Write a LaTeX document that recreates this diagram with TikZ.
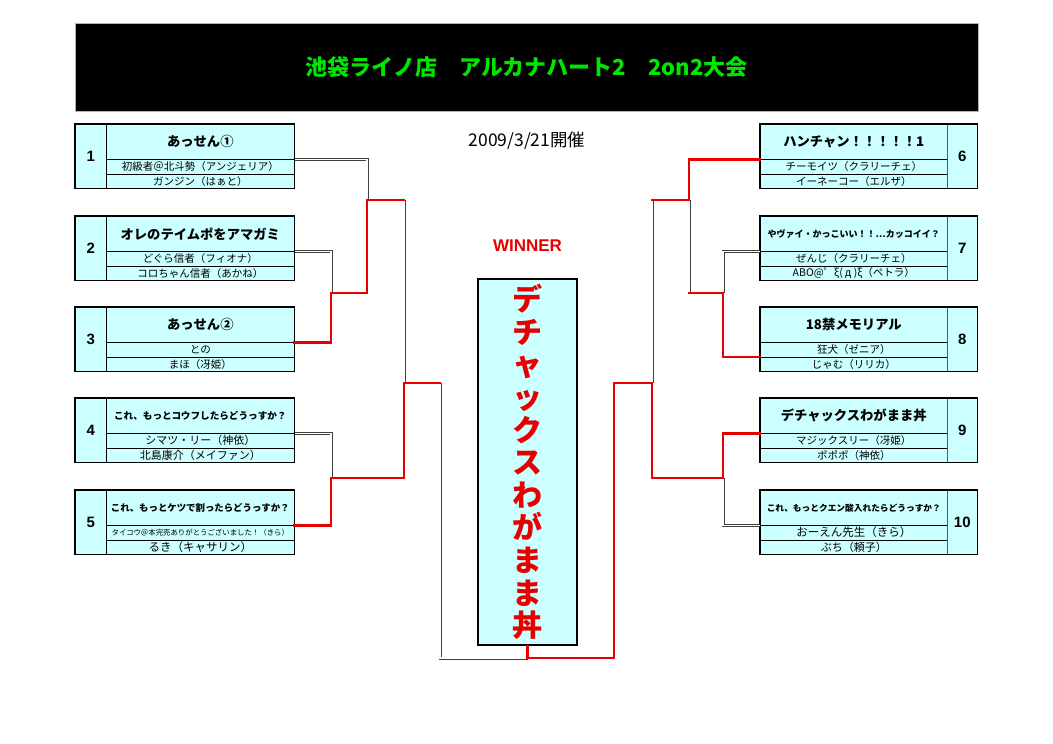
\documentclass[tikz,border=0pt]{standalone}
\usepackage{fontspec}
\newfontfamily\jp{Noto Sans CJK JP}
\newfontfamily\lib{Liberation Sans}
\definecolor{cellcyan}{RGB}{204,255,255}
\definecolor{titlegreen}{RGB}{0,230,0}
\definecolor{bred}{RGB}{232,0,0}
\newcommand\fs[1]{\fontsize{#1}{#1}\selectfont}
% left box: id, top, number, header, row1, row2
\newcommand\LBox[6]{%
  \node[numcell] (n#1) at (75,#2) {#3};
  \node[hdr] (h#1) at (106,#2) {#4};
  \node[rowcell] (ra#1) at (106,#2+35) {#5};
  \node[rowcell] (rb#1) at (106,#2+49.5) {#6};
  \draw[outer] (n#1.north west) rectangle (rb#1.south east);
}
\newcommand\RBox[6]{%
  \node[hdr,minimum width=187pt] (h#1) at (760,#2) {#4};
  \node[rowcell,minimum width=187pt] (ra#1) at (760,#2+35) {#5};
  \node[rowcell,minimum width=187pt] (rb#1) at (760,#2+49.5) {#6};
  \node[numcell,minimum width=30pt] (n#1) at (947,#2) {#3};
  \draw[outer] (h#1.north west) rectangle (n#1.south east);
}
\begin{document}
\begin{tikzpicture}[x=1pt,y=-1pt,
  cell/.style={draw=black, line width=0.6pt, fill=cellcyan, inner sep=0pt, anchor=north west},
  hdr/.style={cell, minimum width=188pt, minimum height=35pt, font=\jp\bfseries\fs{13.3}},
  rowcell/.style={cell, minimum width=188pt, minimum height=14.5pt, font=\jp\fs{10.5}},
  numcell/.style={cell, draw=gray!70!black, minimum width=31pt, minimum height=64pt, font=\lib\bfseries\fs{15}},
  outer/.style={draw=black, line width=1.6pt},
  lose/.style={draw=black!75, line width=0.9pt, double=white, double distance=1.2pt},
  win/.style={draw=bred, line width=2.4pt, line cap=rect}
]
\fill[white] (0,0) rectangle (1053,744);
\useasboundingbox (0,0) rectangle (1053,744);

% title
\node[fill=black, draw=gray!60, line width=1pt, minimum width=903pt, minimum height=88pt, inner sep=0pt,
      text=titlegreen, font=\jp\bfseries\fs{22}] (title) at (526.5,67) {池袋ライノ店　アルカナハート2　2on2大会};
\node[font=\jp\fs{17.5}, inner sep=0pt] (date) at (527,141) {2009/3/21開催};
\node[font=\lib\bfseries\fs{17}, text=bred, inner sep=0pt] (winner) at (527.5,246) {WINNER};

% boxes (left)
\LBox{1}{124}{1}{あっせん①}{初級者＠北斗勢（アンジェリア）}{ガンジン（はぁと）}
\LBox{2}{216}{2}{オレのテイムポをアマガミ}{どぐら信者（フィオナ）}{コロちゃん信者（あかね）}
\LBox{3}{307}{3}{あっせん②}{との}{まほ（冴姫）}
\LBox{4}{398}{4}{{\fs{9.6}これ、もっとコウフしたらどうっすか？}}{{\fs{11}シマツ・リー（神依）}}{{\fs{11}北島康介（メイファン）}}
\LBox{5}{490}{5}{{\fs{9.4}これ、もっとケツで割ったらどうっすか？}}{{\fs{7.4}タイコウ＠本完売ありがとうございました！（きら）}}{{\fs{11.5}るき（キャサリン）}}
% boxes (right)
\RBox{6}{124}{6}{ハンチャン！！！！！1}{チーモイツ（クラリーチェ）}{イーネーコー（エルザ）}
\RBox{7}{216}{7}{{\fs{9}やヴァイ・かっこいい！！…カッコイイ？}}{ぜんじ（クラリーチェ）}{ABO@゜ξ(~д~)ξ（ペトラ）}
\RBox{8}{307}{8}{18禁メモリアル}{狂犬（ゼニア）}{じゃむ（リリカ）}
\RBox{9}{398}{9}{デチャックスわがまま丼}{マジックスリー（冴姫）}{ポポポ（神依）}
\RBox{10}{490}{10}{{\fs{8.7}これ、もっとクエン酸入れたらどうっすか？}}{{\fs{11.5}おーえん先生（きら）}}{{\fs{11}ぶち（頼子）}}

% winner box
\node[draw=black, line width=1.6pt, fill=cellcyan, minimum width=99pt, minimum height=366pt, inner sep=0pt,
      align=center, text=bred, font=\jp\bfseries\fontsize{30}{32.6}\selectfont] (wbox) at (527.5,462)
  {デ\\チ\\ャ\\ッ\\ク\\ス\\わ\\が\\ま\\ま\\丼};

% connector coordinates
\coordinate (j1) at (367,200);
\coordinate (j23) at (331,293);
\coordinate (s1) at (404,200);
\coordinate (f1) at (404,383);
\coordinate (j45) at (331,478);
\coordinate (fL) at (440,383);
\coordinate (bot) at (527.5,658);
\coordinate (fR) at (614,383);
\coordinate (f2) at (652,383);
\coordinate (s2) at (652,200);
\coordinate (j6) at (689,200);
\coordinate (j78) at (723,293);
\coordinate (j910) at (723,478);

% losing paths
\draw[lose] (h1.south east) -| (j1);
\draw[lose] (h2.south east) -| (j23);
\draw[lose] (s1) -- (f1);
\draw[lose] (h4.south east) -| (j45);
\draw[lose] (fL) |- (bot);
\draw[lose] (h7.south west) -| (j78);
\draw[lose] (j6 |- j78) -- (j6);
\draw[lose] (s2) -- (f2);
\draw[lose] (h10.south west) -| (j910);

% winning paths
\draw[win] (h3.south east) -| (j23) -| (j1) -- (s1);
\draw[win] (h5.south east) -| (j45) -| (f1) -- (fL);
\draw[win] (wbox.south) -- (bot) -| (fR) -- (f2);
\draw[win] (h6.south west) -| (j6) -- (s2);
\draw[win] (ra8.south west) -| (j78) -- (j6 |- j78);
\draw[win] (h9.south west) -| (j910) -| (f2);
\end{tikzpicture}
\end{document}
